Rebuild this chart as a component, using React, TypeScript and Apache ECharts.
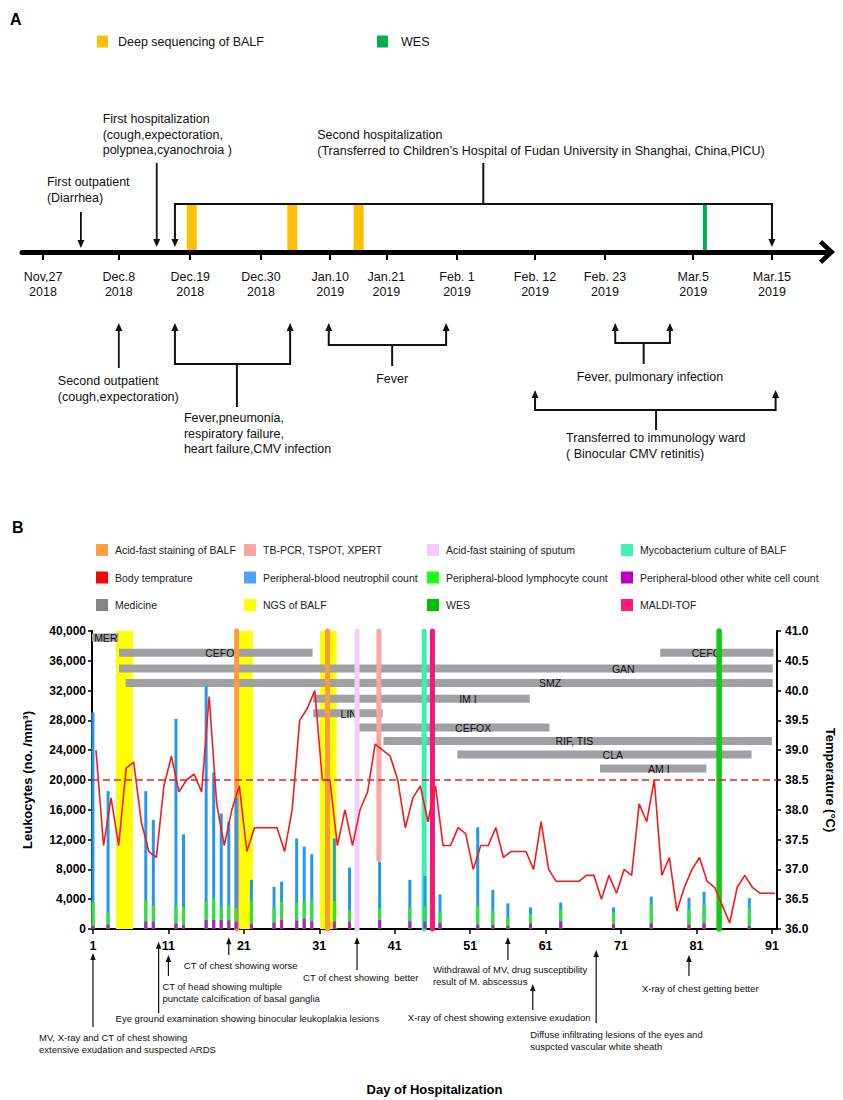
import React, { useEffect, useRef } from 'react';
import * as echarts from 'echarts';

const FONT = '"Liberation Sans", Arial, Helvetica, sans-serif';

/* ---------------- Panel A: timeline schematic (units: 0 = Nov 27 tick, 100 = Mar 15 tick, as drawn) */
const timelineTicks = [0, 10.4, 20.2, 29.9, 39.4, 47.1, 56.8, 67.5, 77.1, 89.2, 100];
const timelineLabels = ['Nov,27\n2018', 'Dec.8\n2018', 'Dec.19\n2018', 'Dec.30\n2018', 'Jan.10\n2019', 'Jan.21\n2019', 'Feb. 1\n2019', 'Feb. 12\n2019', 'Feb. 23\n2019', 'Mar.5\n2019', 'Mar.15\n2019'];
const deepSeqAt = [20.4, 34.2, 43.3];
const wesTimelineAt = [90.8];
const aboveEnds = [[5.2], [15.6], [18.1, 100]];
const aboveStem = [null, null, 60.4];
const aboveTexts = [
  'First outpatient\n(Diarrhea)',
  'First hospitalization\n(cough,expectoration,\npolypnea,cyanochroia )',
  'Second hospitalization\n(Transferred to Children\u2019s Hospital of Fudan University in Shanghai, China,PICU)',
];
const belowEnds = [[10.4], [18.1, 33.9], [39.2, 55.3], [78.5, 86.0], [67.5, 100.5]];
const belowStem = [null, 26.6, 47.9, 82.4, 84.1];
const belowTexts = [
  'Second outpatient\n(cough,expectoration)',
  'Fever,pneumonia,\nrespiratory failure,\nheart failure,CMV infection',
  'Fever',
  'Fever, pulmonary infection',
  'Transferred to immunology ward\n( Binocular CMV retinitis)',
];

/* ---------------- Panel B */
const dayTicks = [1, 11, 21, 31, 41, 51, 61, 71, 81, 91];
const barDays = [1, 3, 8, 9, 12, 13, 16, 17, 18, 19, 20, 22, 25, 26, 28, 29, 30, 33, 35, 39, 43, 45, 47, 52, 54, 56, 59, 63, 70, 75, 80, 82, 88];
const otherWbc = [400, 600, 1000, 1000, 700, 500, 1200, 1200, 1200, 1150, 1000, 700, 850, 1200, 1100, 1350, 1000, 1000, 1000, 1200, 1000, 1000, 800, 600, 550, 400, 750, 1000, 650, 750, 550, 750, 400];
const lymphocyte = [3270, 1600, 2900, 2100, 2300, 2500, 2450, 2900, 1800, 2050, 1800, 3100, 2000, 2450, 2450, 2400, 2850, 2750, 1550, 1600, 1800, 2000, 1600, 2600, 1900, 1150, 1300, 1700, 1550, 2550, 2100, 2550, 2400];
const neutrophil = [25400, 16300, 14600, 11550, 25200, 9700, 28900, 16900, 12500, 11200, 14800, 2800, 2800, 2700, 8600, 7300, 6200, 8400, 5700, 6200, 3800, 4100, 2250, 10450, 2800, 1900, 850, 850, 700, 1050, 1550, 1700, 1350];
const temperature = [
  39.0, 37.4, 38.2, 37.4, 38.7, 38.8, 37.8, 37.3, 37.2, 38.4,
  38.9, 38.3, 38.5, 38.6, 38.3, 39.9, 38.1, 37.4, 38.0, 38.4,
  37.3, 37.7, 37.7, 37.7, 37.7, 37.3, 38.0, 39.5, 39.7, 40.0,
  38.5, 38.5, 37.4, 38.0, 37.4, 38.0, 38.3, 39.1, 39.0, 38.9,
  38.5, 37.7, 38.2, 38.4, 37.8, 38.4, 37.4, 37.4, 37.7, 37.6,
  37.0, 37.4, 37.4, 37.7, 37.2, 37.3, 37.3, 37.3, 37.0, 37.8,
  37.0, 36.8, 36.8, 36.8, 36.8, 36.9, 36.9, 36.5, 36.9, 36.6,
  37.0, 36.9, 38.1, 37.8, 38.5, 36.9, 37.2, 36.3, 36.7, 37.0,
  37.2, 36.8, 36.7, 36.4, 36.1, 36.7, 36.9, 36.7, 36.6, 36.6,
  36.6,
];
const feverThreshold = 38.5;
const ngsStart = [4.05, 20.4, 31.1];
const ngsEnd = [6.3, 22.2, 33.3];
const acidFastBalfDays = [20.05, 32.1];
const acidFastSputumDays = [36.0];
const tbPcrDays = [38.9];
const tbPcrFrom = 9300;
const mycoCultureDays = [44.9];
const maldiDays = [46.0];
const wesDays = [84.0];
const medNames = ['MER', 'CEFO', 'CEFO', 'GAN', 'SMZ', 'IM I', 'LIN', 'CEFOX', 'RIF, TIS', 'CLA', 'AM I'];
const medStart = [0.87, 4.45, 76.2, 4.45, 5.33, 30.2, 30.2, 35.8, 39.5, 49.3, 68.2];
const medEnd = [4.35, 30.1, 91.2, 91.1, 91.1, 58.9, 39.4, 61.5, 91.0, 88.3, 82.3];
const medRow = [39130, 37070, 37070, 34960, 33030, 30920, 28950, 27050, 25250, 23430, 21550];
const medLabelAt = [2.7, 17.8, 82.3, 71.3, 61.6, 50.7, 34.9, 51.4, 64.8, 69.9, 76.0];
const eventDays = [1, 9.7, 11, 19, 36, 56, 59.3, 67.7, 80];
const eventTexts = [
  'MV, X-ray and CT of chest showing\nextensive exudation and suspected ARDS',
  'Eye ground examination showing binocular leukoplakia lesions',
  'CT of head showing multiple\npunctate calcification of basal ganglia',
  'CT of chest showing worse',
  'CT of chest showing  better',
  'Withdrawal of MV, drug susceptibility\nresult of M. abscessus',
  'X-ray of chest showing extensive exudation',
  'Diffuse infiltrating lesions of the eyes and\nsuspcted vascular white sheath',
  'X-ray of chest getting better',
];

/* ---------------- colours */
const C = {
  orangeA: '#FFC000', greenA: '#00B050',
  acidBalf: '#F99D3A', tbPcr: '#F9A6A2', acidSputum: '#F0CFF8', myco: '#3FEFB2',
  temp: '#F81A1A', neut: '#2299EE', lymph: '#2EE62E', other: '#C21BC2',
  med: '#A0A0A4', ngs: '#FFFF00', wes: '#14C814', maldi: '#F2197D',
};

const ln = (x1: number, y1: number, x2: number, y2: number, color: string, w: number) => ({
  type: 'line', shape: { x1, y1, x2, y2 }, style: { stroke: color, lineWidth: w },
});
const pl = (points: number[][], color: string, w: number) => ({
  type: 'polyline', shape: { points }, style: { stroke: color, lineWidth: w, fill: 'none' },
});
const head = (x: number, tipY: number, dir: number, w: number, h: number, color: string) => ({
  type: 'polygon',
  shape: { points: [[x, tipY], [x - w / 2, tipY - dir * h], [x + w / 2, tipY - dir * h]] },
  style: { fill: color },
});
const txt = (x: number, y: number, text: string, size: number, lh: number, color: string) => ({
  type: 'text',
  style: { x, y, text, fill: color, fontSize: size, fontFamily: FONT, align: 'left', verticalAlign: 'top', lineHeight: lh },
});

function buildOption() {
  const INK = '#111';
  // layout (pixels) for panel A annotations
  const LA = [
    { tip: 248, tail: 212, dx: -34, ty: 182 },
    { tip: 247, tail: 163, dx: -54, ty: 119 },
    { tip: 247, bar: 204, stemEnd: 163, dx: -166, ty: 135 },
  ];
  const LB = [
    { tip: 323, tail: 368, dx: -61, ty: 381 },
    { tip: 323, bar: 364, stemEnd: 407, dx: -53, ty: 418 },
    { tip: 323, bar: 345, stemEnd: 366, dx: -16, ty: 379 },
    { tip: 323, bar: 343, stemEnd: 364, dx: -67, ty: 377 },
    { tip: 390, bar: 410, stemEnd: 430, dx: -90, ty: 438 },
  ];
  // layout (pixel offsets below the x axis) for panel B event annotations
  const LE = [
    { tip: 24, tail: 98, dx: -54, ty: 108 },
    { tip: 12.7, tail: 84, dx: -43, ty: 89 },
    { tip: 26, tail: 47, dx: -6, ty: 57 },
    { tip: 8.3, tail: 26, dx: -45, ty: 36 },
    { tip: 8, tail: 41, dx: -54, ty: 48 },
    { tip: 8, tail: 31, dx: -75, ty: 40 },
    { tip: 55, tail: 81, dx: -125, ty: 88 },
    { tip: 21, tail: 94, dx: -66, ty: 105 },
    { tip: 26, tail: 47, dx: -47, ty: 59 },
  ];
  const LH_A = 15.5;

  const timelineEvents = (ends: number[][], stems: (number | null)[], texts: string[], L: any[], dir: number) => (params: any, api: any) => {
    const i = params.dataIndex;
    const px = (v: number) => api.coord([v, 0])[0];
    const l = L[i];
    const kids: any[] = [];
    let tx: number;
    const stem = stems[i];
    const hs = dir * 7;
    if (stem == null) {
      const x = px(ends[i][0]);
      kids.push(ln(x, l.tail, x, l.tip - hs, INK, 1.8), head(x, l.tip, dir, 7, 8, INK));
      tx = x + l.dx;
    } else {
      const xa = px(ends[i][0]);
      const xb = px(ends[i][1]);
      const xs = px(stem);
      kids.push(pl([[xa, l.tip - hs], [xa, l.bar], [xb, l.bar], [xb, l.tip - hs]], INK, 2));
      kids.push(ln(xs, l.bar, xs, l.stemEnd, INK, 2));
      kids.push(head(xa, l.tip, dir, 7, 8, INK), head(xb, l.tip, dir, 7, 8, INK));
      tx = xs + l.dx;
    }
    kids.push(txt(tx, l.ty - LH_A / 2, texts[i], 12.5, LH_A, INK));
    return { type: 'group', children: kids };
  };

  const marker = (name: string, days: number[], color: string, lo = 0, width = 5) => ({
    type: 'custom', name, xAxisIndex: 1, yAxisIndex: 1, z: 3, silent: true,
    data: days.map((d) => [d, lo, 40000]),
    encode: { x: 0, y: [1, 2] },
    renderItem: (params: any, api: any) => {
      const a = api.coord([api.value(0), api.value(1)]);
      const b = api.coord([api.value(0), api.value(2)]);
      return { type: 'line', shape: { x1: a[0], y1: a[1], x2: b[0], y2: b[1] }, style: { stroke: color, lineWidth: width, lineCap: 'round' } };
    },
  });

  // stacked white-cell bars drawn as overlapping cumulative bars (bottom component drawn last)
  const cumOther = otherWbc;
  const cumLymph = otherWbc.map((v, i) => v + lymphocyte[i]);
  const cumNeut = cumLymph.map((v, i) => v + neutrophil[i]);
  const wbcBar = (name: string, vals: number[], color: string, z: number) => ({
    type: 'bar', name, xAxisIndex: 1, yAxisIndex: 1, barWidth: 3, barGap: '-100%', z, silent: true,
    itemStyle: { color }, data: barDays.map((d, i) => [d, vals[i]]),
  });

  const legendText = { fontSize: 10.5, fontFamily: FONT, color: '#222', padding: [0, 0, 0, 2] };
  const legendCol = (left: number, items: { name: string; color: string }[]) => ({
    orient: 'vertical', left, top: 539, itemGap: 15.5, itemWidth: 12, itemHeight: 12, icon: 'rect',
    selectedMode: false, textStyle: legendText,
    data: items.map((it) => ({ name: it.name, icon: 'rect', itemStyle: { color: it.color } })),
  });

  return {
    animation: false,
    textStyle: { fontFamily: FONT },
    title: [
      { text: 'A', left: 10, top: 11, padding: 0, textStyle: { fontSize: 16, fontWeight: 'bold', fontFamily: FONT, color: '#000' } },
      { text: 'B', left: 12, top: 519, padding: 0, textStyle: { fontSize: 16, fontWeight: 'bold', fontFamily: FONT, color: '#000' } },
    ],
    legend: [
      { left: 92, top: 30, itemWidth: 11, itemHeight: 12, icon: 'rect', selectedMode: false,
        textStyle: { fontSize: 12.5, fontFamily: FONT, color: INK, padding: [0, 0, 0, 5] },
        data: [{ name: 'Deep sequencing of BALF', itemStyle: { color: C.orangeA } }] },
      { left: 372, top: 30, itemWidth: 11, itemHeight: 12, icon: 'rect', selectedMode: false,
        textStyle: { fontSize: 12.5, fontFamily: FONT, color: INK, padding: [0, 0, 0, 8] },
        data: [{ name: 'WES', itemStyle: { color: C.greenA } }] },
      legendCol(91, [
        { name: 'Acid-fast staining of BALF', color: '#FF9E3D' },
        { name: 'Body temprature', color: '#FF0000' },
        { name: 'Medicine', color: '#858585' },
      ]),
      legendCol(239, [
        { name: 'TB-PCR, TSPOT, XPERT', color: '#FFA3A3' },
        { name: 'Peripheral-blood neutrophil count', color: '#4FA3FF' },
        { name: 'NGS of BALF', color: '#FFFF00' },
      ]),
      legendCol(422, [
        { name: 'Acid-fast staining of sputum', color: '#F0CCF7' },
        { name: 'Peripheral-blood lymphocyte count', color: '#1AFF1A' },
        { name: 'WES', color: '#00C000' },
      ]),
      legendCol(616, [
        { name: 'Mycobacterium culture of BALF', color: '#40F2B5' },
        { name: 'Peripheral-blood other white cell count', color: '#C000C0' },
        { name: 'MALDI-TOF', color: '#FF1A7A' },
      ]),
    ],
    grid: [
      { left: 22, right: 16, top: 0, height: 252, outerBoundsMode: 'none' },
      { left: 92, right: 66, top: 631, height: 298, outerBoundsMode: 'none' },
    ],
    xAxis: [
      {
        gridIndex: 0, type: 'value', min: -2.88, max: 107.55, position: 'bottom',
        axisLine: {
          show: true, onZero: false, lineStyle: { color: '#000', width: 5 },
          symbol: ['none', 'path://M0,13 L12,0 L24,13 L20.5,16 L12,7 L3.5,16 Z'], symbolSize: [24, 16],
        },
        axisTick: { show: true, customValues: timelineTicks, length: 8, lineStyle: { color: '#000', width: 2 } },
        axisLabel: {
          show: true, customValues: timelineTicks, margin: 17, fontSize: 12.5, lineHeight: 15, color: INK, fontFamily: FONT,
          formatter: (v: number) => {
            const k = timelineTicks.findIndex((t) => Math.abs(t - v) < 1e-6);
            return k >= 0 ? timelineLabels[k] : '';
          },
        },
        splitLine: { show: false },
      },
      {
        gridIndex: 1, type: 'value', min: 0.87, max: 91.67, position: 'bottom',
        axisLine: { show: true, onZero: false, lineStyle: { color: '#000', width: 2 } },
        axisTick: { show: true, customValues: dayTicks, length: 5, lineStyle: { color: '#000', width: 1.5 } },
        axisLabel: { show: true, customValues: dayTicks, margin: 10, fontSize: 12.5, fontWeight: 'bold', color: '#000', fontFamily: FONT },
        splitLine: { show: false },
        name: 'Day of Hospitalization', nameLocation: 'middle', nameGap: 154,
        nameTextStyle: { fontSize: 13, fontWeight: 'bold', color: '#000', fontFamily: FONT },
      },
    ],
    yAxis: [
      { gridIndex: 0, type: 'value', min: 0, max: 252, inverse: true, show: false },
      {
        gridIndex: 1, type: 'value', min: 0, max: 40000, interval: 4000, position: 'left',
        axisLine: { show: true, onZero: false, lineStyle: { color: '#000', width: 2 } },
        axisTick: { show: true, length: 4, lineStyle: { color: '#000', width: 1.5 } },
        axisLabel: { margin: 6, fontSize: 12, fontWeight: 'bold', color: '#000', fontFamily: FONT,
          formatter: (v: number) => v.toLocaleString('en-US') },
        splitLine: { show: false },
        name: 'Leukocytes (no. /mm\u00B3)', nameLocation: 'middle', nameGap: 58,
        nameTextStyle: { fontSize: 13, fontWeight: 'bold', color: '#000', fontFamily: FONT },
      },
      {
        gridIndex: 1, type: 'value', min: 36, max: 41, interval: 0.5, position: 'right',
        axisLine: { show: true, onZero: false, lineStyle: { color: '#000', width: 2 } },
        axisTick: { show: true, length: 4, lineStyle: { color: '#000', width: 1.5 } },
        axisLabel: { margin: 8, fontSize: 12, fontWeight: 'bold', color: '#000', fontFamily: FONT,
          formatter: (v: number) => v.toFixed(1) },
        splitLine: { show: false },
        name: 'Temperature (\u00B0C)', nameLocation: 'middle', nameGap: 47, nameRotate: -90,
        nameTextStyle: { fontSize: 13, fontWeight: 'bold', color: '#000', fontFamily: FONT },
      },
    ],
    series: [
      /* ---- panel A */
      {
        type: 'custom', name: 'Deep sequencing of BALF', xAxisIndex: 0, yAxisIndex: 0, z: 2, silent: true,
        data: deepSeqAt.map((p) => [p, 0]), encode: { x: 0, y: 1 },
        renderItem: (params: any, api: any) => {
          const x = api.coord([api.value(0), 0])[0];
          return { type: 'rect', shape: { x: x - 5, y: 205, width: 10, height: 45 }, style: { fill: C.orangeA } };
        },
      },
      {
        type: 'custom', name: 'WES', xAxisIndex: 0, yAxisIndex: 0, z: 2, silent: true,
        data: wesTimelineAt.map((p) => [p, 0]), encode: { x: 0, y: 1 },
        renderItem: (params: any, api: any) => {
          const x = api.coord([api.value(0), 0])[0];
          return { type: 'rect', shape: { x: x - 2, y: 205, width: 4, height: 45 }, style: { fill: C.greenA } };
        },
      },
      {
        type: 'custom', name: 'timelineAbove', xAxisIndex: 0, yAxisIndex: 0, z: 4, silent: true,
        data: aboveEnds.map((e, i) => [aboveStem[i] ?? e[0], 0]), encode: { x: 0, y: 1 },
        renderItem: timelineEvents(aboveEnds, aboveStem, aboveTexts, LA, 1),
      },
      {
        type: 'custom', name: 'timelineBelow', xAxisIndex: 0, yAxisIndex: 0, z: 4, silent: true,
        data: belowEnds.map((e, i) => [belowStem[i] ?? e[0], 0]), encode: { x: 0, y: 1 },
        renderItem: timelineEvents(belowEnds, belowStem, belowTexts, LB, -1),
      },
      /* ---- panel B */
      {
        type: 'custom', name: 'NGS of BALF', xAxisIndex: 1, yAxisIndex: 1, z: 1, silent: true,
        data: ngsStart.map((s, i) => [s, ngsEnd[i], 0, 40000]), encode: { x: [0, 1], y: [2, 3] },
        renderItem: (params: any, api: any) => {
          const a = api.coord([api.value(0), api.value(3)]);
          const b = api.coord([api.value(1), api.value(2)]);
          return { type: 'rect', shape: { x: a[0], y: a[1], width: b[0] - a[0], height: b[1] - a[1] }, style: { fill: C.ngs } };
        },
      },
      {
        type: 'custom', name: 'Medicine', xAxisIndex: 1, yAxisIndex: 1, z: 2, silent: true,
        data: medNames.map((n, i) => [medStart[i], medEnd[i], medRow[i], medLabelAt[i]]),
        encode: { x: [0, 1, 3], y: 2 },
        renderItem: (params: any, api: any) => {
          const a = api.coord([api.value(0), api.value(2)]);
          const b = api.coord([api.value(1), api.value(2)]);
          const c = api.coord([api.value(3), api.value(2)]);
          return {
            type: 'group',
            children: [
              { type: 'rect', shape: { x: a[0], y: a[1] - 4, width: b[0] - a[0], height: 8 }, style: { fill: C.med } },
              { type: 'text', z2: 10, style: { x: c[0], y: c[1] + 0.5, text: medNames[params.dataIndex], fill: '#111',
                fontSize: 10.5, fontFamily: FONT, align: 'center', verticalAlign: 'middle' } },
            ],
          };
        },
      },
      marker('Acid-fast staining of BALF', acidFastBalfDays, C.acidBalf),
      marker('Acid-fast staining of sputum', acidFastSputumDays, C.acidSputum),
      marker('TB-PCR, TSPOT, XPERT', tbPcrDays, C.tbPcr, tbPcrFrom),
      marker('Mycobacterium culture of BALF', mycoCultureDays, C.myco),
      marker('MALDI-TOF', maldiDays, C.maldi),
      marker('WES', wesDays, C.wes, 0, 5.5),
      wbcBar('Peripheral-blood neutrophil count', cumNeut, C.neut, 4),
      wbcBar('Peripheral-blood lymphocyte count', cumLymph, C.lymph, 4),
      wbcBar('Peripheral-blood other white cell count', cumOther, C.other, 4),
      {
        type: 'line', name: 'Body temprature', xAxisIndex: 1, yAxisIndex: 2, z: 6, silent: true,
        symbol: 'none', showSymbol: false, color: C.temp,
        lineStyle: { color: C.temp, width: 1.6 },
        data: temperature.map((t, i) => [i + 1.4, t]),
        markLine: {
          silent: true, symbol: ['none', 'none'], label: { show: false },
          lineStyle: { color: C.temp, width: 1.6, type: [7, 4] },
          data: [{ yAxis: feverThreshold }],
        },
      },
      {
        type: 'custom', name: 'events', xAxisIndex: 1, yAxisIndex: 1, z: 5, silent: true,
        data: eventDays.map((d) => [d, 0]), encode: { x: 0, y: 1 },
        renderItem: (params: any, api: any) => {
          const i = params.dataIndex;
          const p = api.coord([api.value(0), 0]);
          const l = LE[i];
          const x = p[0];
          const y0 = p[1];
          return {
            type: 'group',
            children: [
              ln(x, y0 + l.tail, x, y0 + l.tip + 6, INK, 1.2),
              head(x, y0 + l.tip, -1, 5.5, 7, INK),
              txt(x + l.dx, y0 + l.ty - 6.25, eventTexts[i], 9.5, 12.5, INK),
            ],
          };
        },
      },
    ],
  };
}

export default function App() {
  const ref = useRef<HTMLDivElement>(null);
  useEffect(() => {
    document.body.style.margin = '0';
    const chart = echarts.init(ref.current as HTMLDivElement, null, { renderer: 'svg' });
    chart.setOption(buildOption() as any);
    return () => chart.dispose();
  }, []);
  return <div ref={ref} style={{ width: 843, height: 1100 }} />;
}
